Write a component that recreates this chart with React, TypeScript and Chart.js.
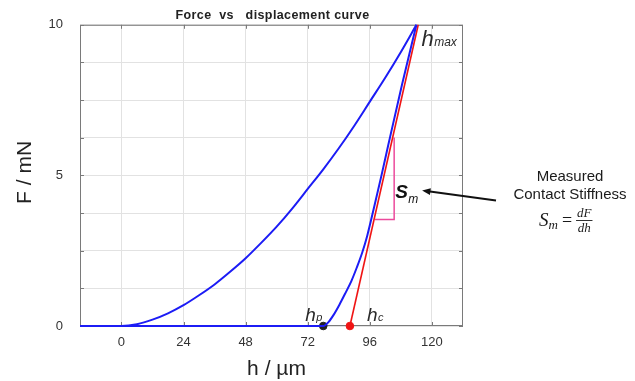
import React, { useEffect, useRef } from 'react';
import { Chart, registerables } from 'chart.js';

Chart.register(...registerables);

// ---------- data ----------
const TITLE = 'Force  vs   displacement curve';
const X_TITLE = 'h / µm';
const Y_TITLE = 'F / mN';

const xTicks = [0, 24, 48, 72, 96, 120];
const yGridTicks = [0, 1.25, 2.5, 3.75, 5, 6.25, 7.5, 8.75, 10];
const yLabelTicks = [0, 5, 10];

// loading curve (h in µm, F in mN)
const loadingH = [-16, 0, 6, 12, 18, 24, 30, 36, 42, 48, 54, 60, 66, 72, 78, 84, 90, 96, 102, 108, 114];
const loadingF = [0, 0, 0.06, 0.21, 0.42, 0.69, 1.02, 1.38, 1.8, 2.25, 2.76, 3.3, 3.9, 4.55, 5.2, 5.9, 6.65, 7.45, 8.25, 9.1, 10];

// unloading curve
const unloadH = [114, 108.4, 103.1, 100.5, 97.8, 95, 93.1, 91, 88.9, 86.6, 84.2, 82, 80, 78, -16];
const unloadF = [10, 8, 6, 5, 4, 3, 2.45, 1.95, 1.5, 1.1, 0.7, 0.37, 0.13, 0, 0];

// stiffness tangent line
const tangentH = [88.3, 114.7];
const tangentF = [0, 10];

// slope triangle
const triH = [98, 105.4, 105.4];
const triF = [3.54, 3.54, 6.26];

const hpPoint = { h: 78, F: 0 };
const hcPoint = { h: 88.3, F: 0 };
const hmaxPoint = { h: 114, F: 10 };

const X_MIN = -16, X_MAX = 132, Y_MIN = 0, Y_MAX = 10;

const SANS = "'Liberation Sans', Arial, sans-serif";
const SERIF = "'Liberation Serif', 'DejaVu Serif', serif";
const BLUE = '#1c1cf5';
const RED = '#f01414';
const PINK = '#ec4a9c';
const BORDER = '#7a7a7a';
const GRID = '#e2e2e2';

function pts(hs: number[], fs: number[]) {
  return hs.map((h, i) => ({ x: h, y: fs[i] }));
}

const annotate = {
  id: 'annotate',
  beforeDatasetsDraw(chart: any) {
    const { ctx, chartArea: a, scales } = chart;
    const x = scales.x, y = scales.y;
    ctx.save();
    ctx.strokeStyle = BORDER;
    ctx.lineWidth = 1;
    ctx.strokeRect(a.left + 0.5, a.top + 0.5, a.right - a.left - 1, a.bottom - a.top - 1);
    ctx.beginPath();
    const tl = 4;
    xTicks.forEach((v) => {
      const p = Math.round(x.getPixelForValue(v)) + 0.5;
      ctx.moveTo(p, a.top); ctx.lineTo(p, a.top + tl);
      ctx.moveTo(p, a.bottom); ctx.lineTo(p, a.bottom - tl);
    });
    yGridTicks.forEach((v) => {
      const p = Math.round(y.getPixelForValue(v)) + 0.5;
      ctx.moveTo(a.left, p); ctx.lineTo(a.left + tl, p);
      ctx.moveTo(a.right, p); ctx.lineTo(a.right - tl, p);
    });
    ctx.stroke();
    ctx.restore();
  },
  afterDraw(chart: any) {
    const { ctx, chartArea: a, scales, width } = chart;
    const x = scales.x, y = scales.y;
    ctx.save();
    ctx.textBaseline = 'alphabetic';

    // title
    ctx.fillStyle = '#222';
    ctx.font = `bold 12.5px ${SANS}`;
    ctx.textAlign = 'center';
    try { (ctx as any).letterSpacing = '0.4px'; } catch (e) { /* ignore */ }
    ctx.fillText(TITLE, (a.left + a.right) / 2 + 1, 19);
    try { (ctx as any).letterSpacing = '0px'; } catch (e) { /* ignore */ }

    // axis titles
    ctx.font = `21px ${SANS}`;
    ctx.fillStyle = '#222';
    ctx.fillText(X_TITLE, (a.left + a.right) / 2 + 5, 375);
    ctx.save();
    ctx.translate(31, (a.top + a.bottom) / 2 - 3);
    ctx.rotate(-Math.PI / 2);
    ctx.fillText(Y_TITLE, 0, 0);
    ctx.restore();

    // italic labels with subscript
    const sub = (main: string, s: string, px: number, py: number, mainFont: string, subFont: string, dy: number) => {
      ctx.textAlign = 'left';
      ctx.font = mainFont;
      ctx.fillText(main, px, py);
      const w = ctx.measureText(main).width;
      ctx.font = subFont;
      ctx.fillText(s, px + w + 0.5, py + dy);
    };
    ctx.fillStyle = '#2a2a2a';
    sub('h', 'max', x.getPixelForValue(hmaxPoint.h) + 5, y.getPixelForValue(hmaxPoint.F) + 21,
      `italic 22px ${SANS}`, `italic 12px ${SANS}`, 0);
    sub('h', 'p', x.getPixelForValue(hpPoint.h) - 18, y.getPixelForValue(hpPoint.F) - 5,
      `italic 19px ${SANS}`, `italic 11px ${SANS}`, 0);
    sub('h', 'c', x.getPixelForValue(hcPoint.h) + 17, y.getPixelForValue(hcPoint.F) - 5,
      `italic 19px ${SANS}`, `italic 11px ${SANS}`, 0);
    ctx.fillStyle = '#111';
    sub('S', 'm', x.getPixelForValue(triH[1]) + 1, y.getPixelForValue(4.24),
      `italic bold 19px ${SANS}`, `italic 12px ${SANS}`, 5);

    // arrow
    const tipX = x.getPixelForValue(116.2), tipY = y.getPixelForValue(4.5);
    const tailX = a.right + 33, tailY = tipY + 10;
    ctx.strokeStyle = '#111';
    ctx.fillStyle = '#111';
    ctx.lineWidth = 2;
    ctx.beginPath();
    ctx.moveTo(tailX, tailY);
    ctx.lineTo(tipX + 6, tipY + 0.8);
    ctx.stroke();
    const ang = Math.atan2(tipY - tailY, tipX - tailX);
    ctx.beginPath();
    ctx.moveTo(tipX, tipY);
    ctx.lineTo(tipX - 9 * Math.cos(ang - 0.38), tipY - 9 * Math.sin(ang - 0.38));
    ctx.lineTo(tipX - 9 * Math.cos(ang + 0.38), tipY - 9 * Math.sin(ang + 0.38));
    ctx.closePath();
    ctx.fill();

    // right-side annotation
    const cx = width - 65;
    ctx.fillStyle = '#1a1a1a';
    ctx.textAlign = 'center';
    ctx.font = `15px ${SANS}`;
    ctx.fillText('Measured', cx, 181);
    ctx.fillText('Contact Stiffness', cx, 199);
    // formula S_m = dF/dh
    ctx.textAlign = 'left';
    ctx.font = `italic 19px ${SERIF}`;
    const fx = cx - 31;
    ctx.fillText('S', fx, 226);
    const w = ctx.measureText('S').width;
    ctx.font = `italic 13px ${SERIF}`;
    ctx.fillText('m', fx + w, 229);
    const wm = ctx.measureText('m').width;
    ctx.font = `18px ${SERIF}`;
    ctx.fillText('=', fx + w + wm + 4, 226);
    const we = ctx.measureText('=').width;
    const fracX = fx + w + wm + we + 8;
    ctx.font = `italic 13px ${SERIF}`;
    const wdf = ctx.measureText('dF').width;
    const wdh = ctx.measureText('dh').width;
    const fw = Math.max(wdf, wdh) + 2;
    ctx.fillText('dF', fracX + (fw - wdf) / 2, 217);
    ctx.fillText('dh', fracX + (fw - wdh) / 2, 232);
    ctx.lineWidth = 0.9;
    ctx.strokeStyle = '#1a1a1a';
    ctx.beginPath();
    ctx.moveTo(fracX, 220.5);
    ctx.lineTo(fracX + fw, 220.5);
    ctx.stroke();

    ctx.restore();
  },
};

export default function App() {
  const ref = useRef<HTMLCanvasElement | null>(null);
  useEffect(() => {
    if (!ref.current) return;
    const chart = new Chart(ref.current, {
      type: 'scatter',
      data: {
        datasets: [
          {
            data: pts(loadingH, loadingF),
            showLine: true, borderColor: BLUE, borderWidth: 2, pointRadius: 0,
            cubicInterpolationMode: 'monotone', clip: 4,
          },
          {
            data: pts(unloadH, unloadF),
            showLine: true, borderColor: BLUE, borderWidth: 2, pointRadius: 0,
            cubicInterpolationMode: 'monotone', clip: 4,
          },
          {
            data: pts(tangentH, tangentF),
            showLine: true, borderColor: RED, borderWidth: 1.6, pointRadius: 0, clip: 4,
          },
          {
            data: pts(triH, triF),
            showLine: true, borderColor: PINK, borderWidth: 1.5, pointRadius: 0, clip: 4,
          },
          {
            data: [{ x: hcPoint.h, y: hcPoint.F }],
            pointRadius: 3.8, pointBackgroundColor: RED, pointBorderColor: RED, clip: false,
          },
          {
            data: [{ x: hpPoint.h, y: hpPoint.F }],
            pointRadius: 3.8, pointBackgroundColor: '#222', pointBorderColor: '#222', clip: false,
          },
        ],
      },
      options: {
        animation: false,
        responsive: false,
        devicePixelRatio: 1,
        events: [],
        layout: { padding: { left: 0, top: 24, right: 172, bottom: 0 } },
        plugins: { legend: { display: false }, tooltip: { enabled: false }, title: { display: false } },
        scales: {
          x: {
            type: 'linear', min: X_MIN, max: X_MAX,
            afterBuildTicks: (s: any) => { s.ticks = xTicks.map((v) => ({ value: v })); },
            afterFit: (s: any) => { s.height = 55; },
            grid: { color: GRID, drawTicks: false, lineWidth: 1 },
            border: { display: false },
            ticks: { padding: 9, color: '#333', font: { family: SANS, size: 13 }, maxRotation: 0, autoSkip: false },
          },
          y: {
            type: 'linear', min: Y_MIN, max: Y_MAX,
            afterBuildTicks: (s: any) => { s.ticks = yGridTicks.map((v) => ({ value: v })); },
            afterFit: (s: any) => { s.width = 80; },
            grid: { color: GRID, drawTicks: false, lineWidth: 1 },
            border: { display: false },
            ticks: {
              padding: 17, color: '#333', font: { family: SANS, size: 13 }, autoSkip: false,
              callback: (v: any) => (yLabelTicks.includes(Number(v)) ? String(v) : ''),
            },
          },
        },
      },
      plugins: [annotate],
    });
    return () => chart.destroy();
  }, []);
  return (
    <div style={{ position: 'fixed', left: 0, top: 0, width: 635, height: 381, background: '#fff' }}>
      <canvas ref={ref} width={635} height={381} style={{ width: 635, height: 381, display: 'block' }} />
    </div>
  );
}
